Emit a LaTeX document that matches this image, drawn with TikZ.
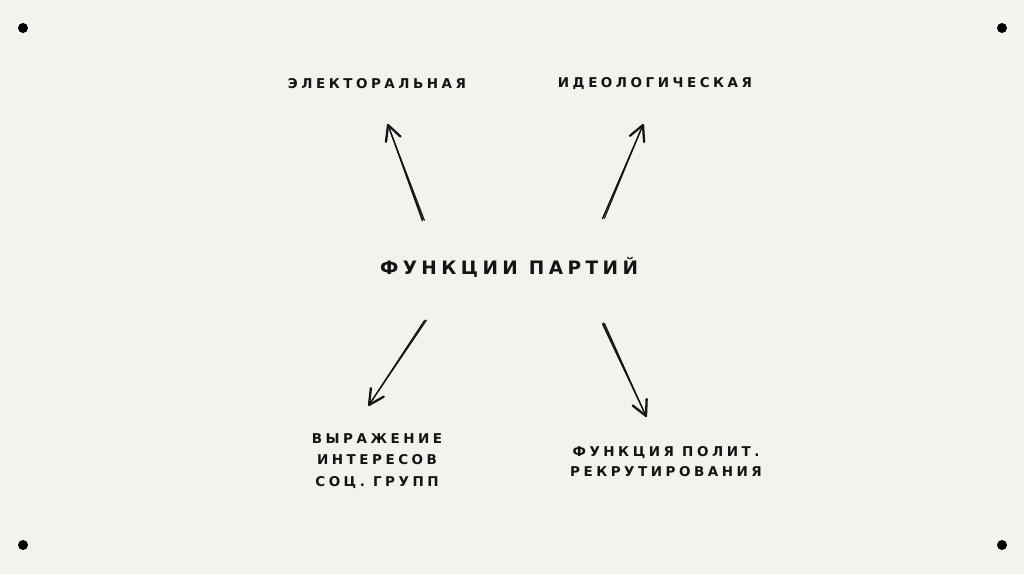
\documentclass[tikz,border=0pt]{standalone}
\usepackage{fontspec}
\setmainfont{DejaVu Sans}
\newfontfamily\lblfont[LetterSpace=26]{DejaVu Sans}
\newfontfamily\ttlfont[LetterSpace=24]{DejaVu Sans}
\usetikzlibrary{calc}
\definecolor{bg}{RGB}{243,243,238}
\definecolor{ink}{RGB}{20,20,20}
\tikzset{
  lbl/.style={font=\lblfont\bfseries\fontsize{13.5}{20}\selectfont, text=ink, align=center, inner sep=0pt},
  ttl/.style={font=\ttlfont\bfseries\fontsize{18.5}{22}\selectfont, text=ink, inner sep=0pt},
  dotm/.style={fill=black, draw=none},
  sketch/.style={draw=ink, line width=1.1pt, line cap=round},
  barb/.style={draw=ink, line width=2.3pt, line cap=round, line join=round}
}
\newcommand{\sketcharrow}[2]{%
  \draw[sketch] (#1) -- (#2);
  \draw[sketch] ($(#1)+(1.4,0.3)$) -- ($(#2)!0.06!(#1)$);
  \draw[sketch] ($(#1)+(-0.7,0.8)$) -- ($(#2)!0.03!(#1)$);
  \draw[barb] ($(#2)!17pt!27:(#1)$) -- (#2) -- ($(#2)!17pt!-27:(#1)$);
}
\begin{document}
\begin{tikzpicture}[x=1pt,y=-1pt]
\fill[bg] (0,0) rectangle (1024,574);
\useasboundingbox (0,0) rectangle (1024,574);
% corner dots
\fill[dotm] (23,28) circle (5);
\fill[dotm] (1002,28) circle (5);
\fill[dotm] (23,545) circle (5);
\fill[dotm] (1002,545) circle (5);
% texts
\node[lbl] (el) at (377,84) {ЭЛЕКТОРАЛЬНАЯ};
\node[lbl] (id) at (655,84) {ИДЕОЛОГИЧЕСКАЯ};
\node[ttl] (fp) at (509,267) {ФУНКЦИИ ПАРТИЙ};
\node[lbl, font=\lblfont\bfseries\fontsize{13.5}{21.5}\selectfont] (vy) at (377,461) {ВЫРАЖЕНИЕ\\ИНТЕРЕСОВ\\СОЦ. ГРУПП};
\node[lbl, font=\lblfont\bfseries\fontsize{13.5}{20}\selectfont] (rk) at (666,462) {ФУНКЦИЯ ПОЛИТ.\\РЕКРУТИРОВАНИЯ};
% arrow coordinates
\coordinate (a1s) at (423,220); \coordinate (a1e) at (388,125);
\coordinate (a2s) at (603,218); \coordinate (a2e) at (643,125);
\coordinate (a3s) at (425,320); \coordinate (a3e) at (369,405);
\coordinate (a4s) at (603,323); \coordinate (a4e) at (646,416);
\sketcharrow{a1s}{a1e}
\sketcharrow{a2s}{a2e}
\sketcharrow{a3s}{a3e}
\sketcharrow{a4s}{a4e}
\end{tikzpicture}
\end{document}
